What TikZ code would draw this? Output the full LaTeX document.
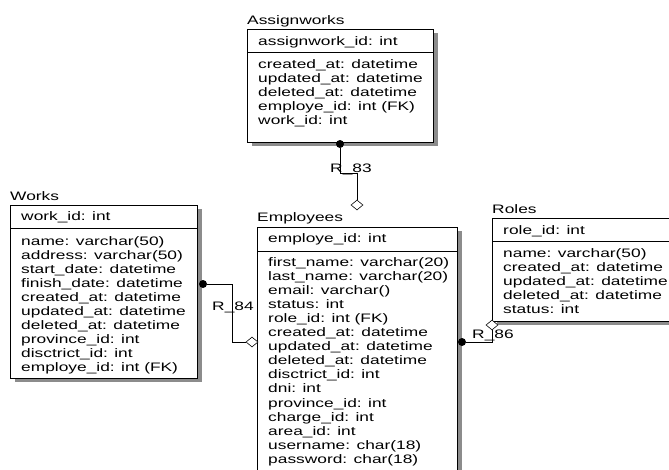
\documentclass[tikz,border=0pt]{standalone}
\usepackage{fontspec}
\setmainfont{Liberation Sans}[FakeStretch=1.41]
\usetikzlibrary{shapes,shadows,positioning}
\newcommand{\px}{0.03cm}
\tikzstyle{tablebox} = [rectangle, draw, line width=0.6pt, fill=white, inner sep=0pt, anchor=north west,
  general shadow={fill=black!45, shadow xshift=0.13cm, shadow yshift=-0.12cm}]
\tikzstyle{field} = [inner sep=0pt, anchor=base west, font=\fontsize{10.5}{12}\selectfont]
\tikzstyle{fkdot} = [circle, fill=black, inner sep=0pt, minimum size=0.24cm]
\tikzstyle{refend} = [diamond, draw, fill=white, inner sep=0pt, minimum width=0.36cm, minimum height=0.3cm, line width=0.5pt]
\tikzstyle{rel} = [draw, line width=0.5pt]

\begin{document}
\begin{tikzpicture}[x=\px, y=-\px]
\useasboundingbox (0,0) rectangle (669,469);
% Assignworks
\node[field] (assign-title) at (247,24) {Assignworks};
\node[tablebox, minimum width=186*\px, minimum height=23*\px] (assign-key) at (247,29) {};
\node[tablebox, minimum width=186*\px, minimum height=90*\px] (assign) at (247,52) {};
\node[field] (assign-id) at (258,45) {assignwork\_id: int};
\foreach \f [count=\i] in {created\_at: datetime, updated\_at: datetime, deleted\_at: datetime,
  employe\_id: int (FK), work\_id: int}
  \node[field] (assign-\i) at (258,{68+14.1*(\i-1)}) {\f};

% Works
\node[field] (works-title) at (10,200) {Works};
\node[tablebox, minimum width=187*\px, minimum height=23*\px] (works-key) at (10,205) {};
\node[tablebox, minimum width=187*\px, minimum height=150*\px] (works) at (10,228) {};
\node[field] (works-id) at (21,220) {work\_id: int};
\foreach \f [count=\i] in {name: varchar(50), address: varchar(50), start\_date: datetime,
  finish\_date: datetime, created\_at: datetime, updated\_at: datetime, deleted\_at: datetime,
  province\_id: int, disctrict\_id: int, employe\_id: int (FK)}
  \node[field] (works-\i) at (21,{245+14.1*(\i-1)}) {\f};

% Employees
\node[field] (emp-title) at (257,221) {Employees};
\node[tablebox, minimum width=200*\px, minimum height=24*\px] (emp-key) at (257,227) {};
\node[tablebox, minimum width=200*\px, minimum height=240*\px] (emp) at (257,251) {};
\node[field] (emp-id) at (268,242) {employe\_id: int};
\foreach \f [count=\i] in {first\_name: varchar(20), last\_name: varchar(20), email: varchar(),
  status: int, role\_id: int (FK), created\_at: datetime, updated\_at: datetime,
  deleted\_at: datetime, disctrict\_id: int, dni: int, province\_id: int, charge\_id: int,
  area\_id: int, username: char(18), password: char(18)}
  \node[field] (emp-\i) at (268,{266+14.1*(\i-1)}) {\f};

% Roles
\node[field] (roles-title) at (492,213) {Roles};
\node[tablebox, minimum width=208*\px, minimum height=23*\px] (roles-key) at (492,218) {};
\node[tablebox, minimum width=208*\px, minimum height=80*\px] (roles) at (492,241) {};
\node[field] (roles-id) at (503,234) {role\_id: int};
\foreach \f [count=\i] in {name: varchar(50), created\_at: datetime, updated\_at: datetime,
  deleted\_at: datetime, status: int}
  \node[field] (roles-\i) at (503,{257+14.1*(\i-1)}) {\f};

% relationships
\node[fkdot] (r83-dot) at (340,144) {};
\node[refend] (r83-end) at (357,205) {};
\coordinate (r83-bend) at (357,173);
\draw[rel] (r83-dot) |- (r83-bend) -- (r83-end);
\node[field] (r83-label) at (330,172) {R\_83};

\node[fkdot] (r84-dot) at (203,284) {};
\node[refend] (r84-end) at (252,342) {};
\coordinate (r84-bend) at (232,284);
\draw[rel] (r84-dot) -- (r84-bend) |- (r84-end);
\node[field] (r84-label) at (212,310) {R\_84};

\node[fkdot] (r86-dot) at (462,342) {};
\node[refend] (r86-end) at (492,325) {};
\draw[rel] (r86-dot) -| (r86-end);
\node[field] (r86-label) at (472,338) {R\_86};
\end{tikzpicture}
\end{document}
